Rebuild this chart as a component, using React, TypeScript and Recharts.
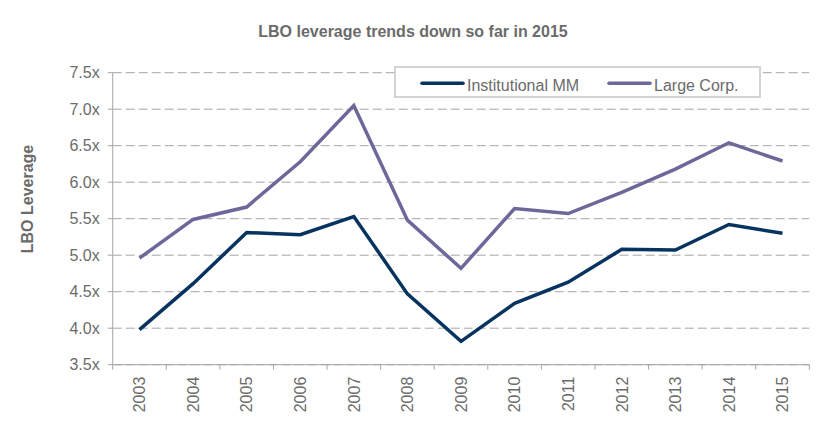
import React from 'react';
import { LineChart, Line, XAxis, YAxis, CartesianGrid } from 'recharts';

// values
const YEARS = ['2003', '2004', '2005', '2006', '2007', '2008', '2009', '2010', '2011', '2012', '2013', '2014', '2015'];
const INSTITUTIONAL_MM = [3.98, 4.61, 5.31, 5.28, 5.53, 4.47, 3.82, 4.34, 4.63, 5.08, 5.07, 5.42, 5.3];
const LARGE_CORP = [4.96, 5.49, 5.66, 6.28, 7.05, 5.48, 4.82, 5.64, 5.57, 5.86, 6.18, 6.54, 6.29];
const Y_TICKS = [3.5, 4, 4.5, 5, 5.5, 6, 6.5, 7, 7.5];

const SERIES = [
  { key: 'institutional', name: 'Institutional MM', color: '#06335f' },
  { key: 'largeCorp', name: 'Large Corp.', color: '#6c6899' },
];

const data = YEARS.map((year, i) => ({
  year,
  institutional: INSTITUTIONAL_MM[i],
  largeCorp: LARGE_CORP[i],
}));

const CHART_W = 828;
const CHART_H = 422;
const PLOT_LEFT = 112.7;
const PLOT_RIGHT = 809.3;
const PLOT_TOP = 72.7;
const PLOT_BOTTOM = 364.7;
const STEP = (PLOT_RIGHT - PLOT_LEFT) / YEARS.length;

const FONT = '"Liberation Sans", Arial, sans-serif';
const TEXT = '#6b6b6b';
const AXIS = '#a6a6a6';

function YearTick(props: any) {
  const { x, y, payload, index } = props;
  const last = index === YEARS.length - 1;
  return (
    <g transform={`translate(${x},${y})`}>
      <line x1={-STEP / 2} y1={0} x2={-STEP / 2} y2={5} stroke={AXIS} />
      {last && <line x1={STEP / 2} y1={0} x2={STEP / 2} y2={5} stroke={AXIS} />}
      <text
        x={0}
        y={0}
        transform="rotate(-90)"
        textAnchor="end"
        dx={-12}
        dy="0.36em"
        fontSize={16}
        fontFamily={FONT}
        fill={TEXT}
      >
        {payload.value}
      </text>
    </g>
  );
}

function Overlay() {
  return (
    <svg
      width={CHART_W}
      height={CHART_H}
      style={{ position: 'absolute', left: 0, top: 0, pointerEvents: 'none' }}
    >
      <text x={413} y={37} textAnchor="middle" fontSize={16} fontWeight="bold" fontFamily={FONT} fill={TEXT}>
        LBO leverage trends down so far in 2015
      </text>
      <text
        x={32.5}
        y={199}
        transform="rotate(-90, 32.5, 199)"
        textAnchor="middle"
        fontSize={16}
        fontWeight="bold"
        fontFamily={FONT}
        fill={TEXT}
      >
        LBO Leverage
      </text>
      <rect x={395} y={67} width={365} height={30} fill="#fff" stroke="#d4d4d4" strokeWidth={2} />
      {SERIES.map((s, i) => {
        const x0 = i === 0 ? 422 : 609;
        return (
          <g key={s.key}>
            <line x1={x0} y1={83.3} x2={x0 + 41} y2={83.3} stroke={s.color} strokeWidth={3.5} strokeLinecap="round" />
            <text x={x0 + 45} y={90.7} fontSize={16} fontFamily={FONT} fill={TEXT}>
              {s.name}
            </text>
          </g>
        );
      })}
    </svg>
  );
}

export default function App() {
  return (
    <div style={{ position: 'absolute', left: 0, top: 0, width: CHART_W, height: CHART_H, background: '#fff' }}>
      <LineChart
        width={CHART_W}
        height={CHART_H}
        data={data}
        margin={{ top: PLOT_TOP, right: CHART_W - PLOT_RIGHT, bottom: 0, left: 0 }}
      >
        <CartesianGrid vertical={false} stroke={AXIS} strokeDasharray="9 4" />
        <XAxis
          dataKey="year"
          interval={0}
          height={CHART_H - PLOT_BOTTOM}
          padding={{ left: STEP / 2, right: STEP / 2 }}
          axisLine={{ stroke: AXIS }}
          tickLine={false}
          tickSize={0}
          tickMargin={0}
          tick={(p: any) => <YearTick {...p} />}
        />
        <YAxis
          width={PLOT_LEFT}
          domain={[3.5, 7.5]}
          ticks={Y_TICKS}
          interval={0}
          axisLine={{ stroke: AXIS }}
          tickLine={{ stroke: AXIS }}
          tickSize={5}
          tickMargin={8}
          tickFormatter={(v: number) => v.toFixed(1) + 'x'}
          tick={{ fontSize: 16, fontFamily: FONT, fill: TEXT }}
        />
        {SERIES.map((s) => (
          <Line
            key={s.key}
            type="linear"
            dataKey={s.key}
            name={s.name}
            stroke={s.color}
            strokeWidth={3.5}
            dot={false}
            activeDot={false}
            isAnimationActive={false}
          />
        ))}
      </LineChart>
      <Overlay />
    </div>
  );
}
